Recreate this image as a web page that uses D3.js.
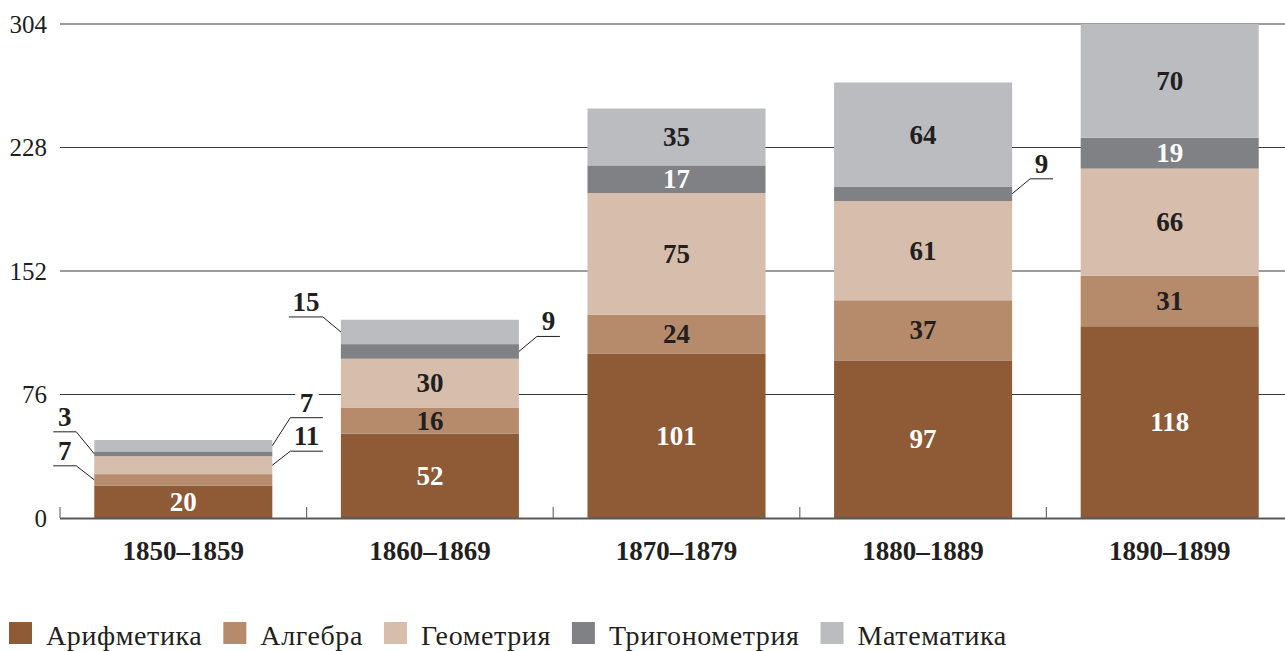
<!DOCTYPE html>
<html>
<head>
<meta charset="utf-8">
<script src="https://cdn.jsdelivr.net/npm/d3@7"></script>
<style>
  html, body { margin: 0; padding: 0; background: #fff; }
  svg { display: block; }
</style>
</head>
<body>
<svg id="chart" width="1285" height="651"></svg>
<script>
// ---- data ----
const categories = ["1850–1859", "1860–1869", "1870–1879", "1880–1889", "1890–1899"];
const seriesNames = ["Арифметика", "Алгебра", "Геометрия", "Тригонометрия", "Математика"];
const arithmetic   = [20, 52, 101, 97, 118];
const algebra      = [7, 16, 24, 37, 31];
const geometry     = [11, 30, 75, 61, 66];
const trigonometry = [3, 9, 17, 9, 19];
const mathematics  = [7, 15, 35, 64, 70];
const yTicks = [0, 76, 152, 228, 304];

// styling
const FONT = "'Liberation Serif', 'Times New Roman', serif";
const colors = ["#8f5a36", "#b58b6c", "#d7bdab", "#808184", "#bbbcc0"];
const labelColors = ["#ffffff", "#231f20", "#231f20", "#ffffff", "#231f20"];
// callouts for thin segments: [category index, series index, side, rise(px)]
const callouts = [
  [0, 3, "left", 22], [0, 1, "left", 14], [0, 4, "right", 28], [0, 2, "right", 14],
  [1, 4, "left", 15], [1, 3, "right", 15],
  [3, 3, "right", 15]
];

const seriesValues = [arithmetic, algebra, geometry, trigonometry, mathematics];
const rows = categories.map((c, i) => {
  const r = { cat: c };
  seriesNames.forEach((s, j) => r[s] = seriesValues[j][i]);
  return r;
});

const svg = d3.select("#chart");
const W = 1285;
const x0 = 60, x1 = 1293, yBottom = 518, yTop = 24;

const x = d3.scaleBand().domain(categories).range([x0, x1]).paddingInner(0.278).paddingOuter(0.139);
const y = d3.scaleLinear().domain([0, 304]).range([yBottom, yTop]);

const stack = d3.stack().keys(seriesNames)(rows);

// gridlines
svg.append("g").selectAll("line").data(yTicks.filter(t => t > 0)).join("line")
  .attr("x1", x0).attr("x2", W).attr("y1", d => y(d)).attr("y2", d => y(d))
  .attr("stroke", "#3c3a3b").attr("stroke-width", 1.1);

// y tick labels
svg.append("g").selectAll("text").data(yTicks).join("text")
  .attr("x", 47).attr("y", d => y(d) + 8.5)
  .attr("text-anchor", "end").attr("font-family", FONT).attr("font-size", 25).attr("fill", "#231f20")
  .text(d => d);

// bars
const layers = svg.append("g").selectAll("g").data(stack).join("g")
  .attr("fill", (d, i) => colors[i]);
layers.selectAll("rect").data(d => d).join("rect")
  .attr("x", d => x(d.data.cat))
  .attr("width", x.bandwidth())
  .attr("y", d => y(d[1]))
  .attr("height", d => y(d[0]) - y(d[1]));

// baseline + ticks
svg.append("line").attr("x1", x0).attr("x2", W).attr("y1", yBottom + 0.5).attr("y2", yBottom + 0.5)
  .attr("stroke", "#58595b").attr("stroke-width", 2);
const step = x.step();
svg.append("g").selectAll("line").data(d3.range(categories.length)).join("line")
  .attr("x1", i => x0 + i * step).attr("x2", i => x0 + i * step)
  .attr("y1", yBottom - 11).attr("y2", yBottom)
  .attr("stroke", "#6d6e70").attr("stroke-width", 1.2);

// inside labels
const isCallout = (ci, si) => callouts.some(c => c[0] === ci && c[1] === si);
stack.forEach((layer, si) => {
  layer.forEach((d, ci) => {
    if (isCallout(ci, si)) return;
    const mid = (y(d[0]) + y(d[1])) / 2;
    svg.append("text")
      .attr("x", x(d.data.cat) + x.bandwidth() / 2)
      .attr("y", mid + 9)
      .attr("text-anchor", "middle")
      .attr("font-family", FONT).attr("font-size", 27).attr("font-weight", "bold")
      .attr("fill", labelColors[si])
      .text(seriesValues[si][ci]);
  });
});

// callouts
const cText = svg.append("g");
const cLines = svg.append("g");
const measure = svg.append("text").attr("font-family", FONT).attr("font-size", 27).attr("font-weight", "bold").attr("opacity", 0);
const widthOf = s => { measure.text(s); return measure.node().getComputedTextLength(); };
const sideLen = {};
callouts.forEach(([ci, si, side]) => {
  const k = ci + side;
  const w = Math.max(23, widthOf(String(seriesValues[si][ci])) + 7);
  sideLen[k] = Math.max(sideLen[k] || 0, w);
});
callouts.forEach(([ci, si, side, rise]) => {
  const d = stack[si][ci];
  const mid = (y(d[0]) + y(d[1])) / 2;
  const bx = side === "left" ? x(d.data.cat) : x(d.data.cat) + x.bandwidth();
  const dir = side === "left" ? -1 : 1;
  const ex = bx + dir * 18;
  const ly = mid - rise;
  const len = sideLen[ci + side];
  const hx = ex + dir * len;
  cText.append("text")
    .attr("x", (ex + hx) / 2).attr("y", ly - 6)
    .attr("text-anchor", "middle")
    .attr("font-family", FONT).attr("font-size", 27).attr("font-weight", "bold")
    .attr("fill", "#231f20")
    .attr("stroke", "#ffffff").attr("stroke-width", 12).attr("paint-order", "stroke")
    .attr("stroke-linejoin", "round")
    .text(seriesValues[si][ci]);
  cLines.append("path")
    .attr("d", `M${bx},${mid}L${ex},${ly}L${hx},${ly}`)
    .attr("fill", "none").attr("stroke", "#231f20").attr("stroke-width", 1);
});
measure.remove();

// category labels
svg.append("g").selectAll("text").data(categories).join("text")
  .attr("x", d => x(d) + x.bandwidth() / 2).attr("y", 560)
  .attr("text-anchor", "middle").attr("font-family", FONT).attr("font-size", 27).attr("font-weight", "bold")
  .attr("fill", "#231f20")
  .text(d => d);

// legend
const lg = svg.append("g");
let lx = 9;
seriesNames.forEach((s, i) => {
  lg.append("rect").attr("x", lx).attr("y", 622).attr("width", 23).attr("height", 22).attr("fill", colors[i]);
  const t = lg.append("text").attr("x", lx + 23 + 14).attr("y", 645)
    .attr("font-family", FONT).attr("font-size", 28).attr("letter-spacing", 0.6)
    .attr("fill", "#231f20").text(s);
  lx = lx + 23 + 14 + t.node().getComputedTextLength() + 21;
});
</script>
</body>
</html>
